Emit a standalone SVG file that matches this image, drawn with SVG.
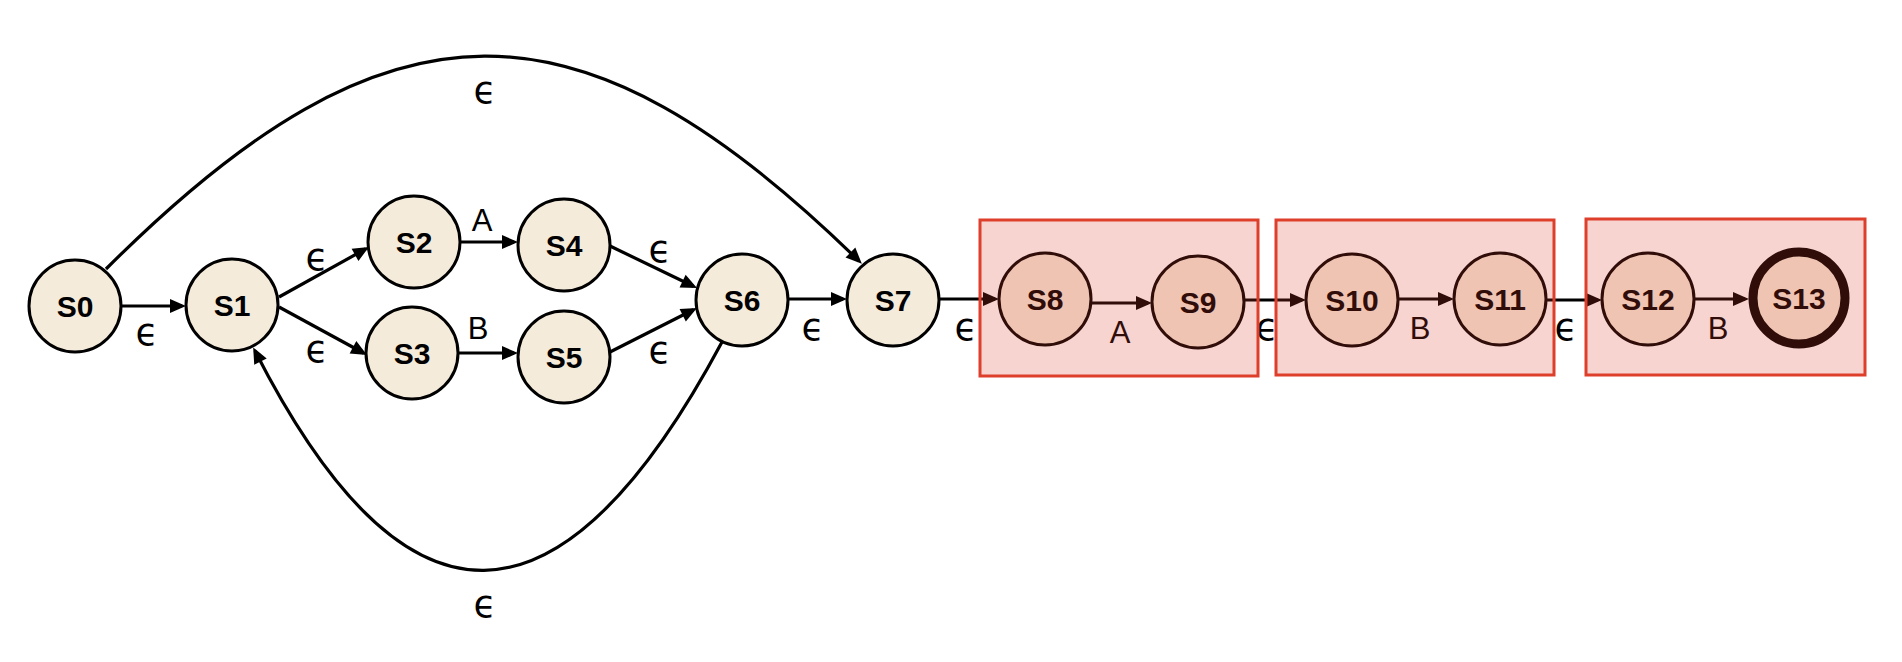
<svg xmlns="http://www.w3.org/2000/svg" width="1902" height="662" viewBox="0 0 1902 662">
<style>
.node circle{fill:#F5EBDA;stroke:#000;stroke-width:3}
.node text{font-family:"Liberation Sans","DejaVu Sans",sans-serif;font-weight:bold;font-size:30px;fill:#000;text-anchor:middle}
.edge{fill:none;stroke:#000;stroke-width:3.2;marker-end:url(#arr)}
.lbl{font-family:"Liberation Sans","DejaVu Sans",sans-serif;font-size:31px;fill:#000;text-anchor:middle}
.eps{font-family:"DejaVu Sans",sans-serif;font-size:37px;fill:#000;text-anchor:middle}
.box rect{fill:#DC3D2A;fill-opacity:0.22;stroke:#DD3F2B;stroke-width:3}
</style>
<defs>
<marker id="arr" markerUnits="userSpaceOnUse" markerWidth="18" markerHeight="16" viewBox="0 -8 17 16" refX="12" refY="0" orient="auto">
<path d="M0,-7 L16,0 L0,7 z" fill="#000"/>
</marker>
</defs>
<rect width="1902" height="662" fill="#fff"/>
<g id="connectors">
<path class="edge" d="M121,306 L182,306"/>
<path class="edge" d="M279,297 L365.5,249"/>
<path class="edge" d="M279,307 L363.5,353"/>
<path class="edge" d="M460,242 L514,242"/>
<path class="edge" d="M458,353 L514,353"/>
<path class="edge" d="M610,246 L693.4,286.3"/>
<path class="edge" d="M610,352 L693.4,309.8"/>
<path class="edge" d="M788,299 L843,299"/>
<path class="edge" d="M939,299 L995,299"/>
<path class="edge" d="M1091,303 L1148,303"/>
<path class="edge" d="M1244,300 L1302,300"/>
<path class="edge" d="M1398,299 L1450,299"/>
<path class="edge" d="M1546,300 L1598,300"/>
<path class="edge" d="M1694,299 L1745,299"/>
<path class="edge" d="M106,269 C390,-15 580,-12 859,261"/>
<path class="edge" d="M722,342 C560,645 405,645 255,351"/>
<text class="eps" x="147" y="345">ϵ</text>
<text class="eps" x="317" y="270">ϵ</text>
<text class="eps" x="317" y="362">ϵ</text>
<text class="lbl" x="482" y="231">A</text>
<text class="lbl" x="478" y="339">B</text>
<text class="eps" x="660" y="262">ϵ</text>
<text class="eps" x="660" y="363">ϵ</text>
<text class="eps" x="813" y="340">ϵ</text>
<text class="eps" x="966" y="340">ϵ</text>
<text class="lbl" x="1120" y="343">A</text>
<text class="eps" x="1267" y="340">ϵ</text>
<text class="lbl" x="1420" y="339">B</text>
<text class="eps" x="1566" y="340">ϵ</text>
<text class="lbl" x="1718" y="339">B</text>
<text class="eps" x="485" y="103">ϵ</text>
<text class="eps" x="485" y="617">ϵ</text>
</g>
<g id="S0" class="node"><circle cx="75" cy="306" r="46"/><text x="75" y="317">S0</text></g>
<g id="S1" class="node"><circle cx="232" cy="305" r="46"/><text x="232" y="316">S1</text></g>
<g id="S2" class="node"><circle cx="414" cy="242" r="46"/><text x="414" y="253">S2</text></g>
<g id="S3" class="node"><circle cx="412" cy="353" r="46"/><text x="412" y="364">S3</text></g>
<g id="S4" class="node"><circle cx="564" cy="245" r="46"/><text x="564" y="256">S4</text></g>
<g id="S5" class="node"><circle cx="564" cy="357" r="46"/><text x="564" y="368">S5</text></g>
<g id="S6" class="node"><circle cx="742" cy="300" r="46"/><text x="742" y="311">S6</text></g>
<g id="S7" class="node"><circle cx="893" cy="300" r="46"/><text x="893" y="311">S7</text></g>
<g id="S8" class="node"><circle cx="1045" cy="299" r="46"/><text x="1045" y="310">S8</text></g>
<g id="S9" class="node"><circle cx="1198" cy="302" r="46"/><text x="1198" y="313">S9</text></g>
<g id="S10" class="node"><circle cx="1352" cy="300" r="46"/><text x="1352" y="311">S10</text></g>
<g id="S11" class="node"><circle cx="1500" cy="299" r="46"/><text x="1500" y="310">S11</text></g>
<g id="S12" class="node"><circle cx="1648" cy="299" r="46"/><text x="1648" y="310">S12</text></g>
<g id="S13" class="node"><circle cx="1799" cy="298" r="46" style="stroke-width:9"/><text x="1799" y="309">S13</text></g>
<g id="group1" class="box"><rect x="980" y="220" width="278" height="156"/></g>
<g id="group2" class="box"><rect x="1276" y="220" width="278" height="155"/></g>
<g id="group3" class="box"><rect x="1586" y="219" width="279" height="156"/></g>
</svg>
